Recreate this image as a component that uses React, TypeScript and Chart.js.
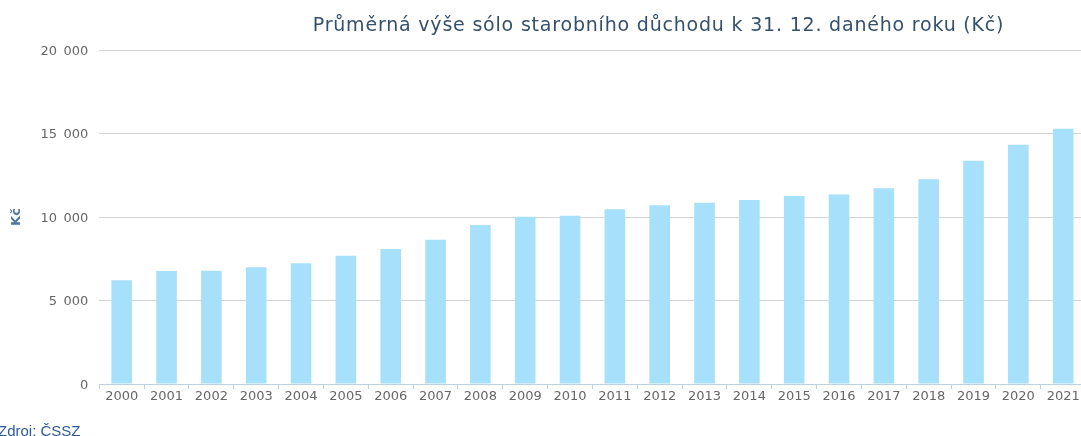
import React, { useEffect, useRef } from "react";
import { Chart, registerables } from "chart.js";

Chart.register(...registerables);

const years = [
  "2000", "2001", "2002", "2003", "2004", "2005", "2006", "2007", "2008", "2009", "2010",
  "2011", "2012", "2013", "2014", "2015", "2016", "2017", "2018", "2019", "2020", "2021",
];
const pension = [
  6210, 6770, 6780, 6990, 7230, 7680, 8080, 8640, 9520, 10010, 10080,
  10460, 10700, 10860, 11020, 11260, 11340, 11720, 12260, 13370, 14330, 15280,
];
const titleText = "Průměrná výše sólo starobního důchodu k 31. 12. daného roku (Kč)";
const yAxisTitle = "Kč";
const sourceText = "Zdroj: ČSSZ";

const fmt = (v: number) => String(v).replace(/\B(?=(\d{3})+(?!\d))/g, "\u2002");

export default function App() {
  const ref = useRef<HTMLCanvasElement>(null);
  useEffect(() => {
    if (!ref.current) return;
    const chart = new Chart(ref.current, {
      type: "bar",
      data: {
        labels: years,
        datasets: [
          {
            data: pension,
            backgroundColor: "#a7e0fa",
            borderWidth: 0,
            categoryPercentage: 1,
            barPercentage: 0.46,
          },
        ],
      },
      options: {
        responsive: false,
        animation: false,
        devicePixelRatio: 1,
        layout: { padding: { top: 50, right: 14.4, left: 0, bottom: 0 } },
        plugins: { legend: { display: false }, tooltip: { enabled: false }, title: { display: false } },
        scales: {
          x: {
            afterFit: (s: any) => {
              s.height = 52;
            },
            grid: {
              display: true,
              drawOnChartArea: false,
              tickLength: 5,
              color: "#c0d0e0",
              offset: true,
            },
            border: { display: true, color: "#c0d0e0" },
            ticks: {
              color: "#666666",
              padding: 0,
              maxRotation: 0,
              autoSkip: false,
              font: { family: "DejaVu Sans", size: 13 },
            },
          },
          y: {
            min: 0,
            max: 20000,
            afterFit: (s: any) => {
              s.width = 99.3;
            },
            grid: { color: "#d4d4d4", drawTicks: false },
            border: { display: false },
            ticks: {
              stepSize: 5000,
              padding: 11,
              labelOffset: 1.5,
              color: "#666666",
              font: { family: "DejaVu Sans", size: 13 },
              callback: (v: any) => fmt(Number(v)),
            },
            title: {
              display: true,
              text: yAxisTitle,
              color: "#4d759e",
              padding: { top: 9, bottom: 0 },
              font: { family: "DejaVu Sans", size: 13, weight: "bold" },
            },
          },
        },
      },
    });
    return () => chart.destroy();
  }, []);

  return (
    <div
      style={{
        position: "fixed",
        left: 0,
        top: 0,
        width: 1081,
        height: 436,
        overflow: "hidden",
        background: "#ffffff",
      }}
    >
      <canvas
        ref={ref}
        width={1100}
        height={436}
        style={{ position: "absolute", left: 0, top: 0, width: 1100, height: 436 }}
      />
      <div
        style={{
          position: "absolute",
          left: 0,
          width: 1317,
          top: 15,
          textAlign: "center",
          whiteSpace: "nowrap",
          fontFamily: "DejaVu Sans",
          fontSize: 19,
          letterSpacing: "0.8px",
          lineHeight: "19px",
          color: "#34506c",
        }}
      >
        {titleText}
      </div>
      <div
        style={{
          position: "absolute",
          left: -2,
          top: 423,
          whiteSpace: "nowrap",
          fontFamily: "Liberation Sans",
          fontSize: 15,
          lineHeight: "15px",
          color: "#2b5aa0",
        }}
      >
        {sourceText}
      </div>
    </div>
  );
}
